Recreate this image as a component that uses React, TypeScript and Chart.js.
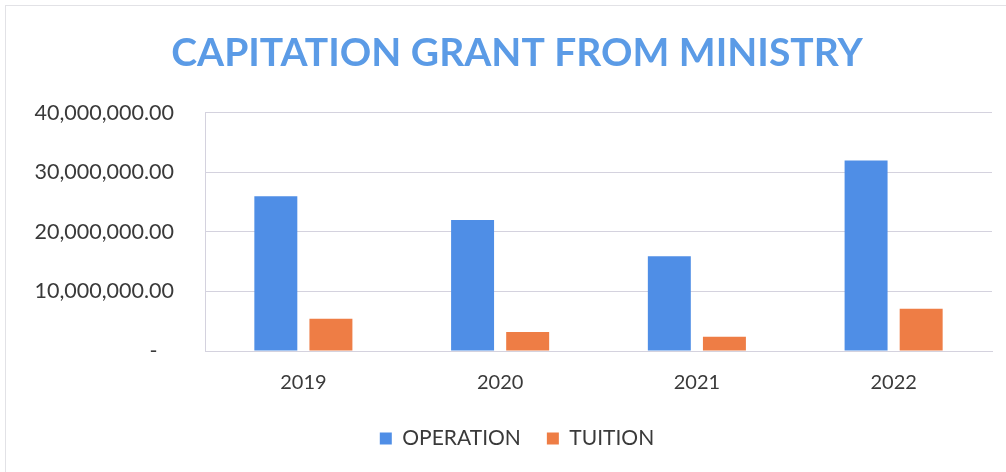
import React, { useEffect, useRef } from "react";
import { Chart, registerables } from "chart.js";

Chart.register(...registerables);

const years = ["2019", "2020", "2021", "2022"];
const operation = [26000000, 22000000, 15900000, 32000000];
const tuition = [5400000, 3200000, 2400000, 7100000];
const yTicks = [0, 10000000, 20000000, 30000000, 40000000];

const FONT = "Lato, 'Noto Sans', sans-serif";

export default function App() {
  const ref = useRef<HTMLCanvasElement | null>(null);

  useEffect(() => {
    document.body.style.margin = "0";
    const canvas = ref.current;
    if (!canvas) return;
    const chart = new Chart(canvas, {
      type: "bar",
      data: {
        labels: years,
        datasets: [
          {
            label: "OPERATION",
            data: operation,
            backgroundColor: "#4f8ee6",
            categoryPercentage: 0.56,
            barPercentage: 0.78,
          },
          {
            label: "TUITION",
            data: tuition,
            backgroundColor: "#ee7d45",
            categoryPercentage: 0.56,
            barPercentage: 0.78,
          },
        ],
      },
      options: {
        animation: false,
        responsive: false,
        maintainAspectRatio: false,
        layout: { padding: { left: 28, right: 0, top: 0, bottom: 13 } },
        plugins: {
          title: {
            display: true,
            text: "CAPITATION GRANT FROM MINISTRY",
            color: "#5b9be6",
            font: { family: FONT, size: 39, weight: "bold" },
            padding: { top: 30, bottom: 36 },
          },
          legend: {
            position: "bottom",
            labels: {
              color: "#3a3a3a",
              font: { family: FONT, size: 21 },
              boxWidth: 12,
              boxHeight: 12,
              padding: 26,
            },
          },
          tooltip: { enabled: false },
        },
        scales: {
          x: {
            grid: { display: false, drawTicks: false },
            border: { display: true, color: "#d4d2de" },
            ticks: {
              color: "#3a3a3a",
              font: { family: FONT, size: 20 },
              padding: 20,
            },
            afterFit: (axis: any) => {
              axis.height = axis.height - 13;
            },
          },
          y: {
            min: 0,
            max: 40000000,
            afterBuildTicks: (axis: any) => {
              axis.ticks = yTicks.map((v) => ({ value: v }));
            },
            afterFit: (axis: any) => {
              axis.width = 177;
            },
            grid: { color: "#d4d2de", drawTicks: false },
            border: { display: true, color: "#d4d2de" },
            ticks: {
              color: "#3a3a3a",
              font: { family: FONT, size: 21.5 },
              padding: 31,
              callback: (v: any) =>
                Number(v) === 0
                  ? "-   "
                  : Number(v).toLocaleString("en-US", {
                      minimumFractionDigits: 2,
                      maximumFractionDigits: 2,
                    }),
            },
          },
          yRight: {
            position: "right",
            display: false,
            grid: { display: false, drawTicks: false },
            border: { display: false },
            ticks: { display: false },
            afterFit: (axis: any) => {
              axis.width = 14;
            },
          },
        },
      },
    });
    return () => chart.destroy();
  }, []);

  return (
    <div style={{ width: 1006, height: 472, position: "relative", background: "#fff", overflow: "hidden" }}>
      <canvas ref={ref} width={1006} height={472} style={{ display: "block" }} />
      <div
        style={{
          position: "absolute",
          left: 5,
          top: 5,
          width: 1006,
          height: 472,
          border: "1px solid #e2e2e6",
          boxSizing: "border-box",
          pointerEvents: "none",
        }}
      />
    </div>
  );
}
